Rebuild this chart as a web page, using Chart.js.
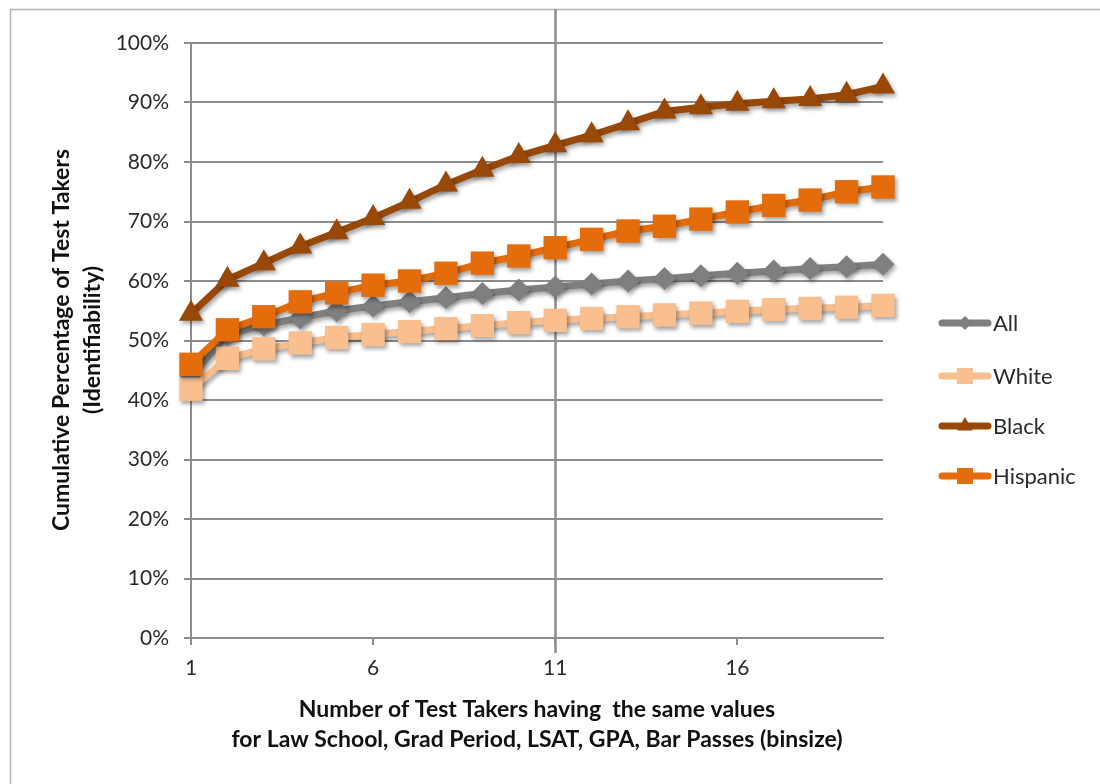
<!DOCTYPE html>
<html>
<head>
<meta charset="utf-8">
<title>Cumulative Identifiability by Bin Size</title>
<script src="https://cdn.jsdelivr.net/npm/chart.js@4.4.1/dist/chart.umd.min.js"></script>
<style>
  html, body { margin: 0; padding: 0; background: #ffffff; }
  #wrap { width: 1100px; height: 784px; position: relative; }
</style>
</head>
<body>
<div id="wrap"><canvas id="chart" width="1100" height="784"></canvas></div>
<script>
// Bin sizes (number of test takers sharing the same values)
const binSizes = ['1','2','3','4','5','6','7','8','9','10','11','12','13','14','15','16','17','18','19','20'];
const labeledBins = ['1','6','11','16'];
const markedBin = '11';

// Cumulative percentage of test takers (identifiability), per group
const allPct      = [44.0, 51.0, 52.6, 53.8, 55.0, 55.8, 56.5, 57.2, 57.9, 58.5, 59.0, 59.5, 60.0, 60.4, 60.9, 61.3, 61.7, 62.1, 62.4, 62.8];
const whitePct    = [41.8, 47.0, 48.6, 49.6, 50.5, 51.0, 51.5, 52.0, 52.5, 53.0, 53.4, 53.7, 54.0, 54.3, 54.6, 54.9, 55.2, 55.4, 55.6, 55.9];
const blackPct    = [54.5, 60.2, 63.0, 65.8, 68.2, 70.6, 73.3, 76.2, 78.7, 81.0, 82.8, 84.5, 86.5, 88.5, 89.2, 89.8, 90.2, 90.6, 91.3, 92.7];
const hispanicPct = [46.0, 51.8, 54.0, 56.5, 58.0, 59.3, 60.0, 61.3, 63.0, 64.2, 65.6, 67.0, 68.4, 69.2, 70.4, 71.6, 72.7, 73.6, 75.0, 75.8];

const seriesNames = ['All', 'White', 'Black', 'Hispanic'];

const FONT = 'Lato, "Open Sans", sans-serif';
const GRID = '#8d8d8d';
const TEXT = '#2b2b2b';

function makeSeries(label, data, color, style, radius, order) {
  return {
    label, data,
    borderColor: color, backgroundColor: color,
    pointBackgroundColor: color, pointBorderColor: color,
    borderWidth: 7, pointStyle: style, pointRadius: radius, pointBorderWidth: 0,
    pointHoverRadius: radius, tension: 0, clip: false, order
  };
}

// Simple marker renderer used for the legend samples
function drawMarker(ctx, style, x, y, r) {
  ctx.beginPath();
  if (style === 'rect') {
    ctx.rect(x - r, y - r, 2 * r, 2 * r);
  } else if (style === 'rectRot') {
    ctx.moveTo(x, y - r); ctx.lineTo(x + r, y); ctx.lineTo(x, y + r); ctx.lineTo(x - r, y); ctx.closePath();
  } else if (style === 'triangle') {
    ctx.moveTo(x, y - r); ctx.lineTo(x + r * 0.87, y + r * 0.5); ctx.lineTo(x - r * 0.87, y + r * 0.5); ctx.closePath();
  }
  ctx.fill();
}

// Frame lines, the marker line at bin 11, axis titles and legend
const decorPlugin = {
  id: 'decor',
  beforeDraw(chart) {
    const ctx = chart.ctx;
    ctx.save();
    ctx.fillStyle = '#ffffff';
    ctx.fillRect(0, 0, chart.width, chart.height);
    ctx.strokeStyle = '#b4b4b4';
    ctx.lineWidth = 1.5;
    ctx.beginPath();
    ctx.moveTo(10.5, chart.height); ctx.lineTo(10.5, 9.5); ctx.lineTo(chart.width, 9.5);
    ctx.stroke();
    ctx.restore();
  },
  beforeDatasetsDraw(chart) {
    const ctx = chart.ctx;
    const xs = chart.scales.x;
    const x = Math.round(xs.getPixelForValue(binSizes.indexOf(markedBin))) + 0.5;
    ctx.save();
    ctx.strokeStyle = GRID;
    ctx.lineWidth = 2.5;
    ctx.beginPath();
    ctx.moveTo(x, 9);
    ctx.lineTo(x, chart.chartArea.bottom + 15);
    ctx.stroke();
    ctx.restore();
    // soft drop shadow under lines and markers
    ctx.save();
    ctx.shadowColor = 'rgba(0,0,0,0.35)';
    ctx.shadowBlur = 4;
    ctx.shadowOffsetX = 2;
    ctx.shadowOffsetY = 3;
  },
  afterDatasetsDraw(chart) {
    chart.ctx.restore();
  },
  afterDraw(chart) {
    const ctx = chart.ctx;
    ctx.save();
    ctx.fillStyle = '#111';
    ctx.font = 'bold 23px ' + FONT;
    ctx.textAlign = 'center';
    ctx.textBaseline = 'middle';
    // x-axis title
    ctx.fillText('Number of Test Takers having  the same values', 537, 710);
    ctx.fillText('for Law School, Grad Period, LSAT, GPA, Bar Passes (binsize)', 537, 740);
    // y-axis title
    ctx.save();
    ctx.translate(62, 340);
    ctx.rotate(-Math.PI / 2);
    ctx.fillText('Cumulative Percentage of Test Takers', 0, 0);
    ctx.restore();
    ctx.save();
    ctx.translate(93, 340);
    ctx.rotate(-Math.PI / 2);
    ctx.fillText('(Identifiability)', 0, 0);
    ctx.restore();

    // legend
    const rows = [323, 376, 426, 476];
    const sizes = { rect: 8, rectRot: 7, triangle: 9 };
    seriesNames.forEach((name, i) => {
      const ds = chart.data.datasets.find(d => d.label === name);
      const y = rows[i];
      ctx.strokeStyle = ds.borderColor;
      ctx.fillStyle = ds.borderColor;
      ctx.lineWidth = 7;
      ctx.lineCap = 'round';
      ctx.beginPath();
      ctx.moveTo(942, y); ctx.lineTo(988, y);
      ctx.stroke();
      drawMarker(ctx, ds.pointStyle, 965, y, sizes[ds.pointStyle]);
      ctx.fillStyle = TEXT;
      ctx.font = '22px ' + FONT;
      ctx.textAlign = 'left';
      ctx.fillText(name, 993, y + 1);
    });
    ctx.restore();
  }
};

new Chart(document.getElementById('chart'), {
  type: 'line',
  data: {
    labels: binSizes,
    datasets: [
      makeSeries('All', allPct, '#7f7f7f', 'rectRot', 11.5, 3),
      makeSeries('White', whitePct, '#f9bf8f', 'rect', 16.5, 2),
      makeSeries('Black', blackPct, '#984807', 'triangle', 14, 1),
      makeSeries('Hispanic', hispanicPct, '#e46c0a', 'rect', 16.5, 0)
    ]
  },
  options: {
    responsive: false,
    animation: false,
    devicePixelRatio: 1,
    layout: { padding: { top: 43, right: 217, bottom: 0, left: 0 } },
    plugins: { legend: { display: false }, tooltip: { enabled: false } },
    scales: {
      x: {
        type: 'category',
        offset: false,
        grid: { drawOnChartArea: false, drawTicks: true, tickLength: 7, color: GRID, lineWidth: 2 },
        border: { color: GRID, width: 2 },
        ticks: {
          autoSkip: false, maxRotation: 0, padding: 11, color: TEXT,
          font: { family: FONT, size: 21 },
          callback: (v, i) => labeledBins.includes(binSizes[i]) ? binSizes[i] : null
        },
        afterFit: s => { s.height = 146; }
      },
      y: {
        min: 0, max: 100,
        grid: { color: GRID, lineWidth: 2, tickLength: 7 },
        border: { color: GRID, width: 2 },
        ticks: {
          stepSize: 10, padding: 15, color: TEXT,
          font: { family: FONT, size: 21 },
          callback: v => v + '%'
        },
        afterFit: s => { s.width = 191; }
      }
    }
  },
  plugins: [decorPlugin]
});
</script>
</body>
</html>
